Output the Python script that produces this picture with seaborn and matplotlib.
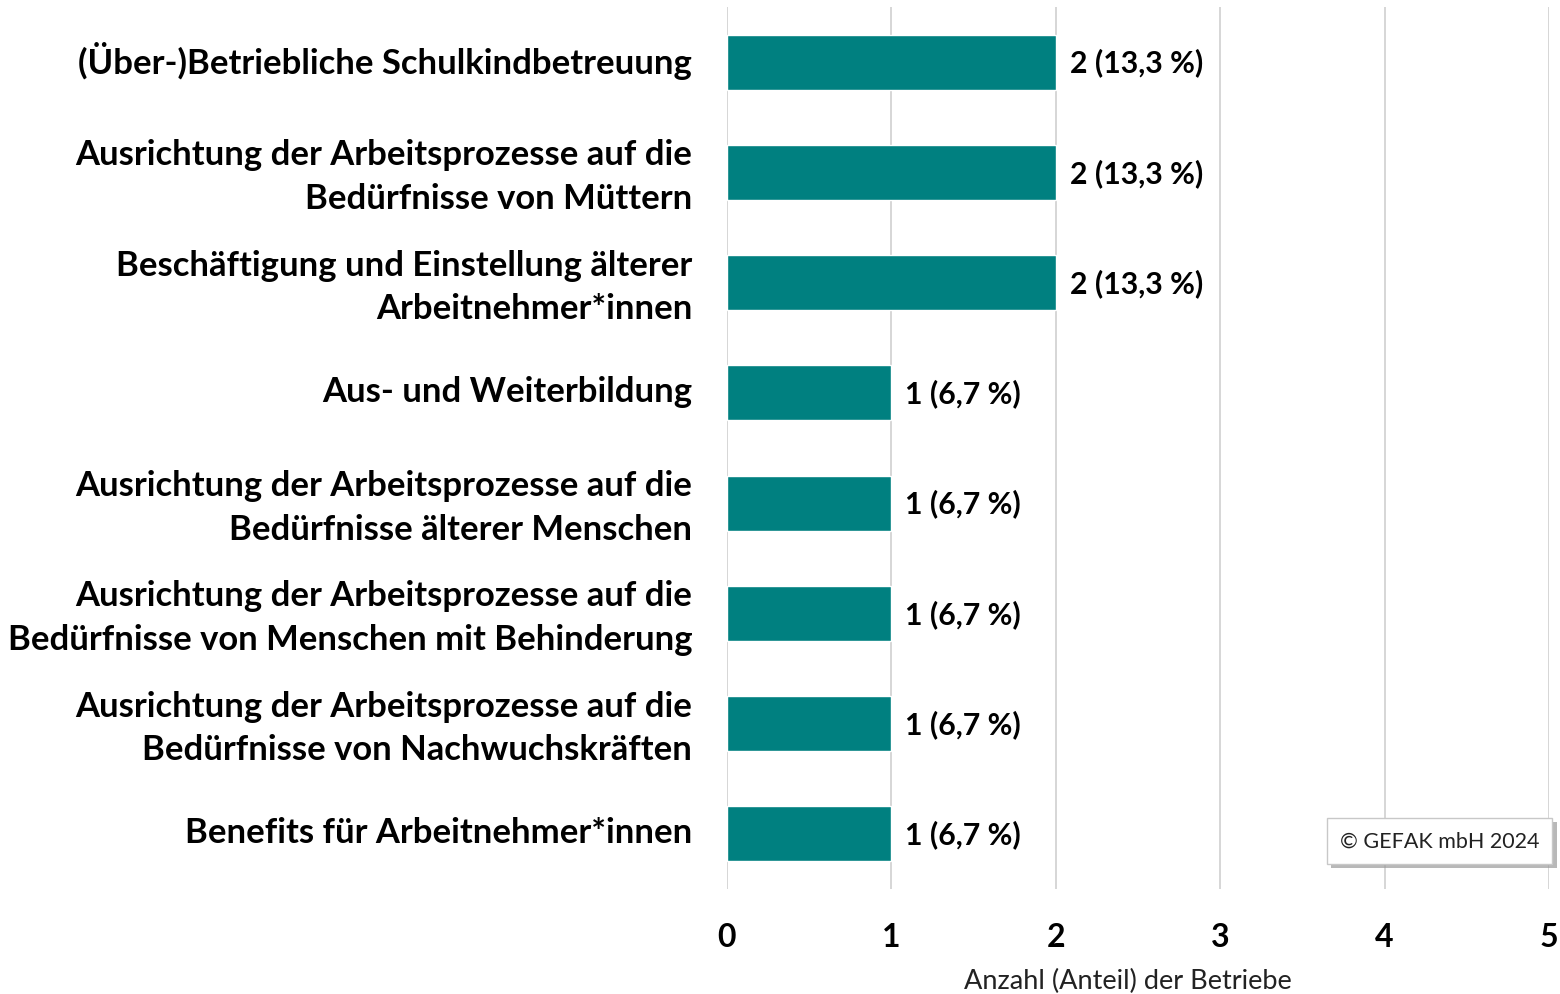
import matplotlib
matplotlib.use("Agg")
import matplotlib.pyplot as plt
import matplotlib.patheffects as pe
from matplotlib.transforms import ScaledTranslation
import seaborn as sns
import pandas as pd

categories = [
    "(Über-)Betriebliche Schulkindbetreuung",
    "Ausrichtung der Arbeitsprozesse auf die\nBedürfnisse von Müttern",
    "Beschäftigung und Einstellung älterer\nArbeitnehmer*innen",
    "Aus- und Weiterbildung",
    "Ausrichtung der Arbeitsprozesse auf die\nBedürfnisse älterer Menschen",
    "Ausrichtung der Arbeitsprozesse auf die\nBedürfnisse von Menschen mit Behinderung",
    "Ausrichtung der Arbeitsprozesse auf die\nBedürfnisse von Nachwuchskräften",
    "Benefits für Arbeitnehmer*innen",
]
values = [2, 2, 2, 1, 1, 1, 1, 1]
value_labels = ["2 (13,3 %)", "2 (13,3 %)", "2 (13,3 %)", "1 (6,7 %)",
                "1 (6,7 %)", "1 (6,7 %)", "1 (6,7 %)", "1 (6,7 %)"]
x_ticks = [0, 1, 2, 3, 4, 5]
x_label = "Anzahl (Anteil) der Betriebe"
copyright_text = "© GEFAK mbH 2024"

sns.set_theme(style="white")
plt.rcParams["font.family"] = ["Lato", "DejaVu Sans"]

df = pd.DataFrame({"cat": categories, "val": values})

fig = plt.figure(figsize=(15.6, 9.95), dpi=100)
ax = fig.add_axes([0.466, 0.1055, 0.527, 0.8865])

sns.barplot(data=df, x="val", y="cat", orient="h", color="#008080",
            width=0.5, saturation=1, ax=ax, zorder=3)

ax.set_xlim(0, 5)
ax.set_xticks(x_ticks)
ax.set_xticklabels([str(t) for t in x_ticks], fontsize=23, fontweight="bold", color="black")
ax.tick_params(axis="x", length=0, pad=24)
ax.tick_params(axis="y", length=0, pad=25)
shift = ScaledTranslation(0, 0.05, fig.dpi_scale_trans)
for lbl in ax.get_yticklabels():
    lbl.set_fontsize(24.9)
    lbl.set_fontweight("bold")
    lbl.set_color("black")
    lbl.set_linespacing(1.45)
    lbl.set_transform(lbl.get_transform() + shift)

ax.set_ylabel("")
ax.set_xlabel(x_label, fontsize=19.5, color="#222222")
ax.xaxis.set_label_coords(0.488, -0.089)

ax.grid(axis="x", color="#d0d0d0", linewidth=1.2, zorder=0)
ax.grid(axis="y", visible=False)
for s in ax.spines.values():
    s.set_visible(False)

ax.bar_label(ax.containers[0], labels=value_labels, padding=10,
             fontsize=21.8, fontweight="bold", color="black")

# copyright box with shadow
t = ax.text(0.867, 0.0544, copyright_text, transform=ax.transAxes, fontsize=15.5,
            color="#222222", ha="center", va="center", zorder=5,
            bbox=dict(boxstyle="square,pad=0.6", fc="white", ec="#c8c8c8", lw=1))
t.get_bbox_patch().set_path_effects([
    pe.SimplePatchShadow(offset=(3, -3), shadow_rgbFace="#9a9a9a", alpha=0.7),
    pe.Normal(),
])

fig.savefig("out.png", dpi=100)
